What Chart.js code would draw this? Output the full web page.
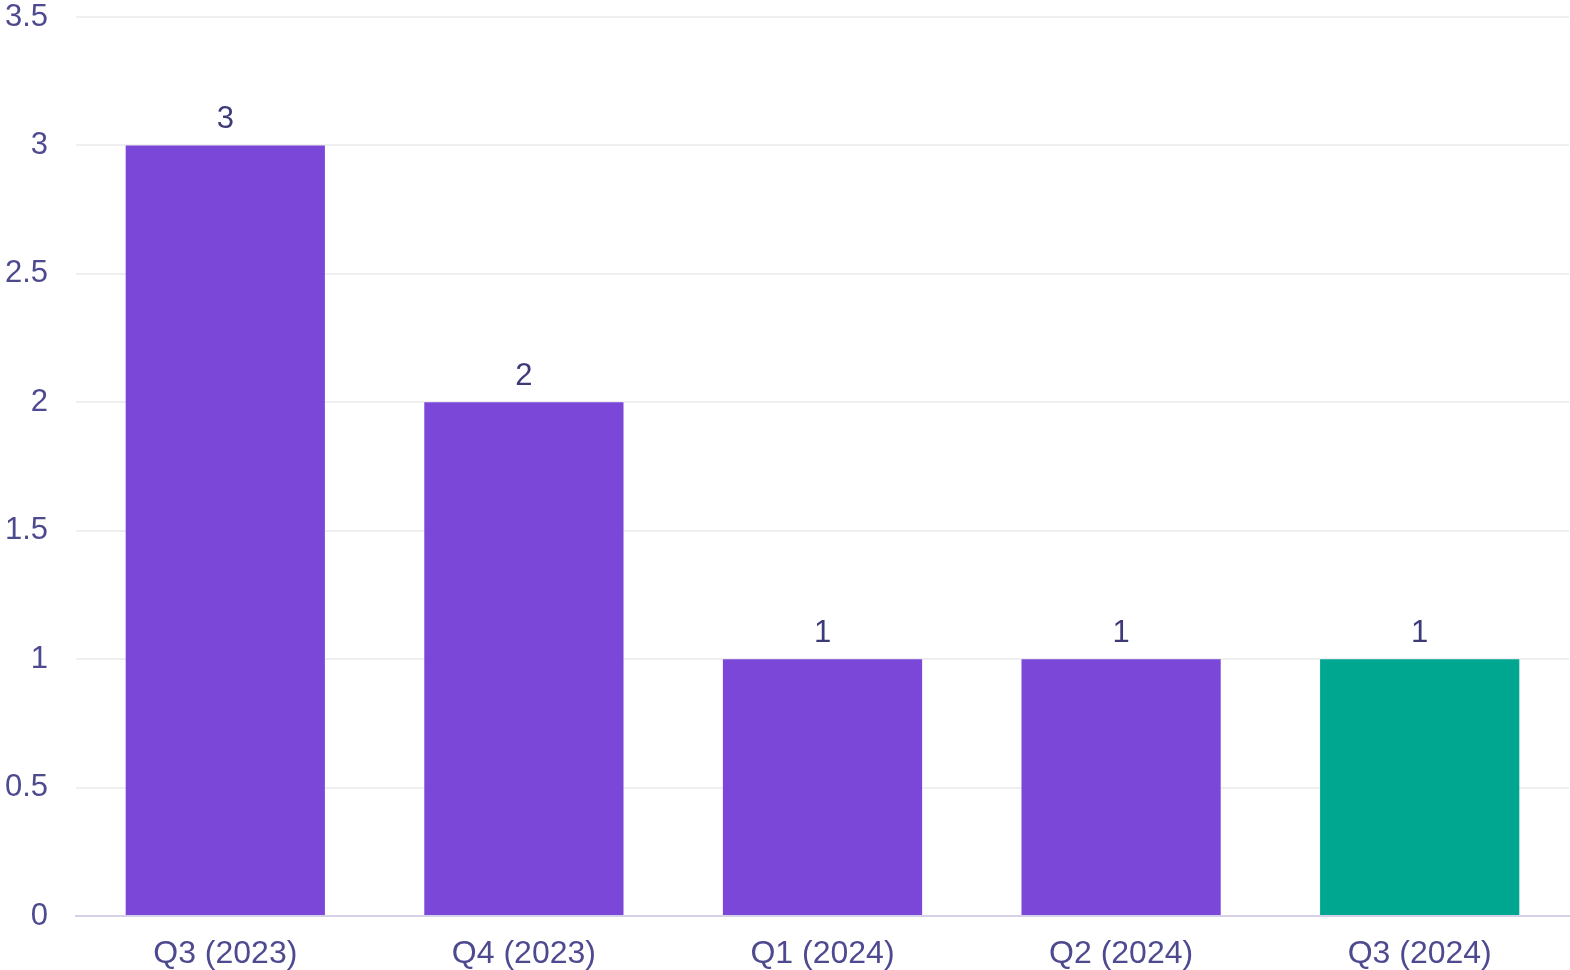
<!DOCTYPE html>
<html>
<head>
<meta charset="utf-8">
<script src="https://cdn.jsdelivr.net/npm/chart.js@4"></script>
<style>
  html, body { margin: 0; padding: 0; background: #fff; }
  #wrap { width: 1570px; height: 970px; }
</style>
</head>
<body>
<div id="wrap"><canvas id="myChart"></canvas></div>
<script>
const quarters = ['Q3 (2023)', 'Q4 (2023)', 'Q1 (2024)', 'Q2 (2024)', 'Q3 (2024)'];
const counts = [3, 2, 1, 1, 1];
const barColors = ['#7B47D9', '#7B47D9', '#7B47D9', '#7B47D9', '#00A790'];

// dibuja el valor encima de cada barra
const valueLabels = {
  id: 'valueLabels',
  afterDatasetsDraw(chart) {
    const ctx = chart.ctx;
    const meta = chart.getDatasetMeta(0);
    ctx.save();
    ctx.font = '31px "Liberation Sans", Arial, sans-serif';
    ctx.fillStyle = '#3D3A78';
    ctx.textAlign = 'center';
    ctx.textBaseline = 'alphabetic';
    meta.data.forEach((bar, i) => {
      ctx.fillText(String(counts[i]), bar.x, bar.y - 17);
    });
    ctx.restore();
  }
};

const ctx = document.getElementById('myChart');

new Chart(ctx, {
  type: 'bar',
  data: {
    labels: quarters,
    datasets: [{
      data: counts,
      backgroundColor: barColors,
      borderWidth: 0,
      categoryPercentage: 0.8,
      barPercentage: 0.834
    }]
  },
  options: {
    responsive: true,
    maintainAspectRatio: false,
    animation: false,
    layout: { padding: { top: 0, right: 1, left: 0, bottom: 0 } },
    plugins: {
      legend: { display: false },
      tooltip: { enabled: false }
    },
    scales: {
      x: {
        grid: { display: false, drawTicks: false },
        border: { color: '#D5D1E8', width: 2 },
        afterFit(scale) { scale.height = 54; },
        ticks: {
          color: '#4E4A8F',
          padding: 19,
          font: { family: '"Liberation Sans", Arial, sans-serif', size: 32 }
        }
      },
      y: {
        min: 0,
        max: 3.5,
        grid: { color: '#EFEFEF', lineWidth: 2, drawTicks: false },
        border: { display: false },
        afterFit(scale) {
          scale.width = 76;
          scale.paddingTop = 17;
          scale.paddingBottom = 0;
        },
        ticks: {
          stepSize: 0.5,
          color: '#4E4A8F',
          padding: 28,
          callback: (v) => String(v),
          font: { family: '"Liberation Sans", Arial, sans-serif', size: 31 }
        }
      }
    }
  },
  plugins: [valueLabels]
});
</script>
</body>
</html>
